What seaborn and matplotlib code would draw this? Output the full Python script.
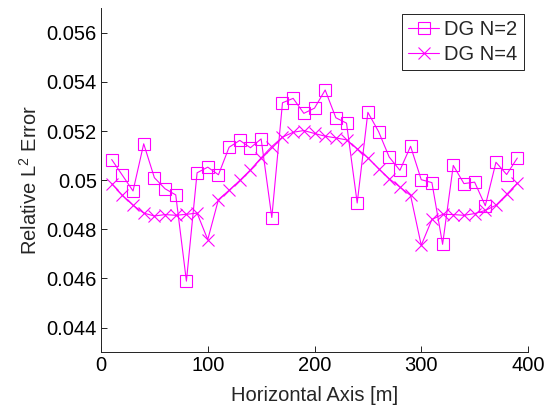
import pandas as pd
import matplotlib
matplotlib.use("Agg")
import matplotlib.pyplot as plt
import seaborn as sns

# Chart data
x_pos = [10, 20, 30, 40, 50, 60, 70, 80, 90, 100,
         110, 120, 130, 140, 150, 160, 170, 180, 190, 200,
         210, 220, 230, 240, 250, 260, 270, 280, 290, 300,
         310, 320, 330, 340, 350, 360, 370, 380, 390]

err_n2 = [0.05084, 0.05020, 0.04956, 0.05148, 0.05010, 0.04965, 0.04940, 0.04589, 0.05030, 0.05053,
          0.05022, 0.05134, 0.05162, 0.05132, 0.05168, 0.04848, 0.05315, 0.05333, 0.05272, 0.05293,
          0.05367, 0.05254, 0.05232, 0.04907, 0.05276, 0.05198, 0.05094, 0.05040, 0.05138, 0.05002,
          0.04990, 0.04739, 0.05060, 0.04986, 0.04992, 0.04896, 0.05073, 0.05023, 0.05090]

err_n4 = [0.04986, 0.04938, 0.04898, 0.04866, 0.04854, 0.04860, 0.04857, 0.04861, 0.04866, 0.04758,
          0.04921, 0.04959, 0.04999, 0.05042, 0.05091, 0.05137, 0.05175, 0.05195, 0.05202, 0.05190,
          0.05179, 0.05172, 0.05164, 0.05128, 0.05091, 0.05047, 0.05006, 0.04972, 0.04938, 0.04735,
          0.04840, 0.04861, 0.04860, 0.04857, 0.04864, 0.04877, 0.04898, 0.04942, 0.04988]

series_names = ["DG N=2", "DG N=4"]
x_ticks = [0, 100, 200, 300, 400]
y_ticks = [0.044, 0.046, 0.048, 0.05, 0.052, 0.054, 0.056]
y_tick_labels = ["0.044", "0.046", "0.048", "0.05", "0.052", "0.054", "0.056"]

MAGENTA = "#ff00ff"
FS = 14.5

sns.set_style("ticks")
plt.rcParams["font.family"] = ["Liberation Sans", "DejaVu Sans"]
plt.rcParams["mathtext.fontset"] = "custom"
plt.rcParams["mathtext.rm"] = "Liberation Sans"
plt.rcParams["mathtext.it"] = "Liberation Sans"
plt.rcParams["xtick.direction"] = "in"
plt.rcParams["ytick.direction"] = "in"

df = pd.DataFrame({
    "x": x_pos * 2,
    "err": err_n2 + err_n4,
    "series": [series_names[0]] * len(x_pos) + [series_names[1]] * len(x_pos),
})

fig = plt.figure(figsize=(5.52, 4.09), dpi=100)
ax = fig.add_axes([0.183, 0.139, 0.7735, 0.841])

markers = {"DG N=2": "s", "DG N=4": "x"}
for name in series_names:
    sub = df[df["series"] == name]
    sns.lineplot(data=sub, x="x", y="err", ax=ax, color=MAGENTA, label=name,
                 marker=markers[name], markersize=8, markerfacecolor="none",
                 markeredgecolor=MAGENTA, markeredgewidth=0.8, linewidth=0.8)

ax.set_xlim(0, 400)
ax.set_ylim(0.043, 0.057)
ax.set_xticks(x_ticks)
ax.set_xticklabels([str(t) for t in x_ticks])
ax.set_yticks(y_ticks)
ax.set_yticklabels(y_tick_labels)
ax.tick_params(labelsize=FS, length=4, width=0.6, colors="black", pad=3)

ax.set_xlabel("Horizontal Axis [m]", fontsize=FS, labelpad=8)
ax.set_ylabel("Relative L$^{2}$ Error", fontsize=FS, labelpad=4)

for side in ["top", "right"]:
    ax.spines[side].set_visible(False)
for side in ["left", "bottom"]:
    ax.spines[side].set_color("#222222")
    ax.spines[side].set_linewidth(0.7)

leg = ax.legend(loc="upper right", bbox_to_anchor=(0.99, 0.983), borderaxespad=0,
                fontsize=FS, fancybox=False, framealpha=1, edgecolor="black",
                handlelength=1.55, handletextpad=0.25, labelspacing=0.3,
                borderpad=0.3)
leg.get_frame().set_linewidth(0.6)

fig.savefig("out.png", dpi=100)
